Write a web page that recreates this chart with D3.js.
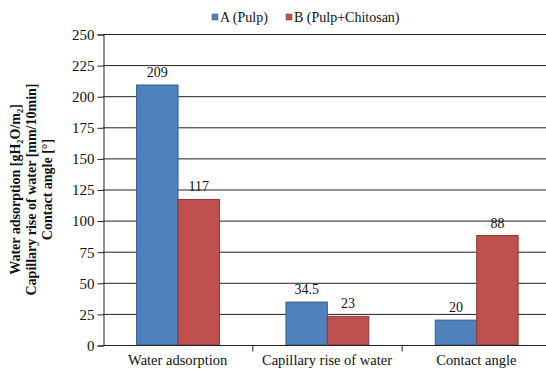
<!DOCTYPE html>
<html>
<head>
<meta charset="utf-8">
<script src="https://cdn.jsdelivr.net/npm/d3@7"></script>
<style>
  html, body { margin: 0; padding: 0; background: #fff; }
  svg text { font-family: "Liberation Serif", "Times New Roman", serif; fill: #111; }
</style>
</head>
<body>
<div id="chart"></div>
<script>
const categories = ['Water adsorption', 'Capillary rise of water', 'Contact angle'];
const seriesNames = ['A (Pulp)', 'B (Pulp+Chitosan)'];
const valuesA = [209, 34.5, 20];
const valuesB = [117, 23, 88];
const yTicks = [0, 25, 50, 75, 100, 125, 150, 175, 200, 225, 250];
const yTitle = ['Water adsorption [gH\u2082O/m\u2082]', 'Capillary rise of water [mm/10min]', 'Contact angle [\u00b0]'];

;(function(){
  const W = 546, H = 371;
  const plot = {left: 103, right: 551, top: 34, bottom: 345};
  const color = {'A (Pulp)': '#4F81BD', 'B (Pulp+Chitosan)': '#C0504D'};
  const edge  = {'A (Pulp)': '#385D8A', 'B (Pulp+Chitosan)': '#8C3836'};

  const svg = d3.select('#chart').append('svg')
    .attr('width', W).attr('height', H);

  const x = d3.scaleBand().domain(categories).range([plot.left, plot.right]).padding(0);
  const bw = x.bandwidth();
  const x1 = d3.scaleBand().domain(seriesNames).range([bw * 0.225, bw * 0.78]).padding(0);
  const y = d3.scaleLinear().domain([0, 250]).range([plot.bottom, plot.top]);

  // gridlines
  svg.append('g').selectAll('line')
    .data(yTicks.filter(t => t > 0))
    .join('line')
      .attr('x1', plot.left).attr('x2', W)
      .attr('y1', d => y(d) + 0.5).attr('y2', d => y(d) + 0.5)
      .attr('stroke', '#222').attr('stroke-width', 1);

  // y axis
  const yAxis = svg.append('g')
    .attr('transform', `translate(${plot.left + 0.5},0.5)`)
    .call(d3.axisLeft(y).tickValues(yTicks).tickSize(6).tickPadding(3));
  yAxis.attr('font-family', null);
  yAxis.select('.domain').attr('stroke', '#222');
  yAxis.selectAll('.tick line').attr('stroke', '#222');
  yAxis.selectAll('.tick text')
    .attr('font-size', 15).attr('fill', '#111');

  // bars
  const data = categories.map((c, i) => ({cat: c, vals: [
    {s: seriesNames[0], v: valuesA[i]},
    {s: seriesNames[1], v: valuesB[i]}
  ]}));

  const groups = svg.append('g').selectAll('g')
    .data(data).join('g')
      .attr('transform', d => `translate(${x(d.cat)},0)`);

  groups.selectAll('rect')
    .data(d => d.vals).join('rect')
      .attr('x', d => x1(d.s))
      .attr('y', d => y(d.v))
      .attr('width', x1.bandwidth())
      .attr('height', d => y(0) - y(d.v))
      .attr('fill', d => color[d.s])
      .attr('stroke', d => edge[d.s])
      .attr('stroke-width', 1);

  groups.selectAll('text.val')
    .data(d => d.vals).join('text')
      .attr('class', 'val')
      .attr('x', d => x1(d.s) + x1.bandwidth() / 2)
      .attr('y', d => y(d.v) - 8)
      .attr('text-anchor', 'middle')
      .attr('font-size', 14)
      .text(d => d.v);

  // x axis
  const xAxis = svg.append('g')
    .attr('transform', `translate(0,${plot.bottom + 0.5})`);
  xAxis.append('line')
    .attr('x1', plot.left).attr('x2', W)
    .attr('stroke', '#222');
  xAxis.selectAll('line.tk')
    .data(categories.slice(1)).join('line')
      .attr('class', 'tk')
      .attr('x1', d => x(d) + 0.5).attr('x2', d => x(d) + 0.5)
      .attr('y1', 0).attr('y2', 6)
      .attr('stroke', '#222');
  xAxis.selectAll('text')
    .data(categories).join('text')
      .attr('x', d => x(d) + bw / 2)
      .attr('y', 19)
      .attr('text-anchor', 'middle')
      .attr('font-size', 14.5)
      .text(d => d);

  // y title
  const yt = svg.append('g')
    .attr('transform', `translate(0,${(plot.top + plot.bottom) / 2}) rotate(-90)`);
  yt.selectAll('text')
    .data(yTitle).join('text')
      .attr('x', 0)
      .attr('y', (d, i) => 20 + i * 16)
      .attr('text-anchor', 'middle')
      .attr('font-size', 14)
      .attr('font-weight', 'bold')
      .text(d => d);

  // legend
  const legend = svg.append('g');
  const lx = [212, 286];
  seriesNames.forEach((s, i) => {
    legend.append('rect')
      .attr('x', lx[i]).attr('y', 14)
      .attr('width', 6).attr('height', 6)
      .attr('fill', color[s]).attr('stroke', edge[s]).attr('stroke-width', 0.5);
    legend.append('text')
      .attr('x', lx[i] + 8).attr('y', 22)
      .attr('font-size', 14)
      .text(s);
  });
})();
</script>
</body>
</html>
